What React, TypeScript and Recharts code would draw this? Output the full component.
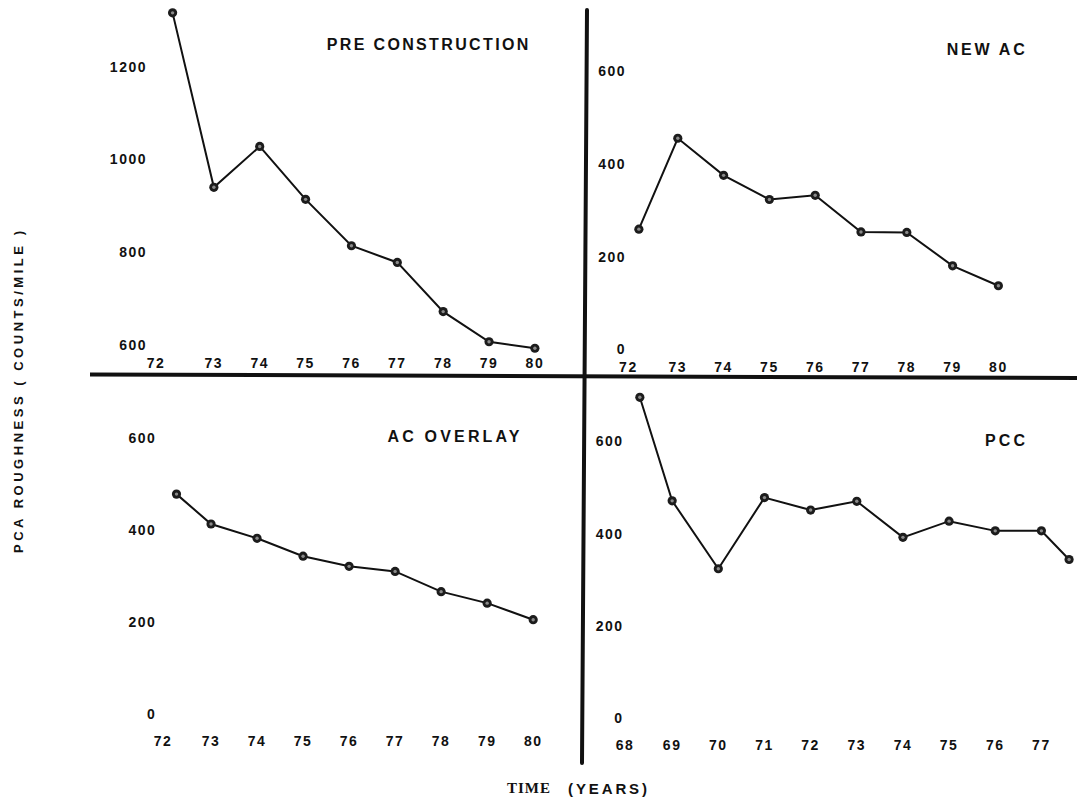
import React from 'react';
import { Line, LineChart, XAxis, YAxis } from 'recharts';

// Pre construction (years 72-80)
const preYears = [72.1, 73, 74, 75, 76, 77, 78, 79, 80];
const preValues = [1316, 940, 1028, 914, 814, 778, 672, 607, 593];

// New AC (years 72-80)
const newAcYears = [72.15, 73, 74, 75, 76, 77, 78, 79, 80];
const newAcValues = [259, 455, 375, 323, 332, 253, 252, 180, 137];

// AC overlay (years 72-80)
const overlayYears = [72.25, 73, 74, 75, 76, 77, 78, 79, 80];
const overlayValues = [478, 413, 382, 343, 321, 310, 266, 241, 205];

// PCC (years 68-77)
const pccYears = [68.3, 69, 70, 71, 72, 73, 74, 75, 76, 77, 77.6];
const pccValues = [695, 471, 324, 478, 451, 470, 392, 427, 406, 406, 344];

const ticks72to80 = [72, 73, 74, 75, 76, 77, 78, 79, 80];
const ticks68to77 = [68, 69, 70, 71, 72, 73, 74, 75, 76, 77];
const preYTicks = [600, 800, 1000, 1200];
const lowYTicks = [0, 200, 400, 600];

const FONT = '"Liberation Sans", Arial, sans-serif';
const INK = '#111';

const Y_W = 60;
const X_H = 40;

const toRows = (xs: number[], ys: number[]) => xs.map((x, i) => ({ x, y: ys[i] }));

const Dot = (props: any) => {
  const { cx, cy, index } = props;
  if (cx == null || cy == null) return null;
  return (
    <g key={`d-${index}`}>
      <circle cx={cx} cy={cy} r={4.6} fill="#1c1c1c" />
      <circle cx={cx} cy={cy} r={1.7} fill="#8a8a8a" />
    </g>
  );
};

type PanelProps = {
  plotLeft: number;
  plotTop: number;
  plotW: number;
  plotH: number;
  xDomain: [number, number];
  yDomain: [number, number];
  xTicks: number[];
  yTicks: number[];
  years: number[];
  values: number[];
  yLabelGap: number;
  xLabelDy: number;
  firstShift: number;
};

const Panel = (p: PanelProps) => {
  const data = toRows(p.years, p.values);
  const xTick = (t: any) => (
    <text
      x={t.x + (t.index === 0 ? p.firstShift : 0)}
      y={t.y + p.xLabelDy}
      textAnchor="middle"
      dominantBaseline="central"
      fontFamily={FONT}
      fontWeight="bold"
      fontSize={14}
      letterSpacing={1.5}
      fill={INK}
    >
      {t.payload.value}
    </text>
  );
  const yTick = (t: any) => (
    <text
      x={t.x}
      y={t.y}
      textAnchor="end"
      dominantBaseline="central"
      fontFamily={FONT}
      fontWeight="bold"
      fontSize={14}
      letterSpacing={1.5}
      fill={INK}
    >
      {t.payload.value}
    </text>
  );
  return (
    <div
      style={{
        position: 'absolute',
        left: p.plotLeft - Y_W,
        top: p.plotTop - 10,
      }}
    >
      <LineChart
        width={p.plotW + Y_W + 10}
        height={p.plotH + X_H + 10}
        data={data}
        margin={{ top: 10, right: 10, left: 0, bottom: 0 }}
      >
        <XAxis
          dataKey="x"
          type="number"
          domain={p.xDomain}
          ticks={p.xTicks}
          interval={0}
          axisLine={false}
          tickLine={false}
          tickSize={0}
          tickMargin={0}
          height={X_H}
          tick={xTick}
        />
        <YAxis
          type="number"
          domain={p.yDomain}
          ticks={p.yTicks}
          interval={0}
          axisLine={false}
          tickLine={false}
          tickSize={0}
          tickMargin={p.yLabelGap}
          width={Y_W}
          tick={yTick}
        />
        <Line
          type="linear"
          dataKey="y"
          stroke={INK}
          strokeWidth={2}
          dot={Dot}
          activeDot={false}
          isAnimationActive={false}
        />
      </LineChart>
    </div>
  );
};

const titleStyle = {
  fontFamily: FONT,
  fontWeight: 'bold' as const,
  fontSize: 16,
  fill: INK,
};

export default function App() {
  return (
    <div
      style={{
        position: 'absolute',
        left: 0,
        top: 0,
        width: 1077,
        height: 798,
        background: '#fff',
        overflow: 'hidden',
      }}
    >
      <Panel
        plotLeft={168.1}
        plotTop={11}
        plotW={366.9}
        plotH={343.3}
        xDomain={[72, 80]}
        yDomain={[580, 1320]}
        xTicks={ticks72to80}
        yTicks={preYTicks}
        years={preYears}
        values={preValues}
        yLabelGap={21}
        xLabelDy={8.4}
        firstShift={-12}
      />
      <Panel
        plotLeft={631.9}
        plotTop={71}
        plotW={366.4}
        plotH={278.3}
        xDomain={[72, 80]}
        yDomain={[0, 600]}
        xTicks={ticks72to80}
        yTicks={lowYTicks}
        years={newAcYears}
        values={newAcValues}
        yLabelGap={6}
        xLabelDy={17.4}
        firstShift={-3.6}
      />
      <Panel
        plotLeft={164.7}
        plotTop={438.3}
        plotW={368.2}
        plotH={276}
        xDomain={[72, 80]}
        yDomain={[0, 600]}
        xTicks={ticks72to80}
        yTicks={lowYTicks}
        years={overlayYears}
        values={overlayValues}
        yLabelGap={8.7}
        xLabelDy={27.4}
        firstShift={-2}
      />
      <Panel
        plotLeft={625.5}
        plotTop={394.8}
        plotW={443.1}
        plotH={323.5}
        xDomain={[68, 77.6]}
        yDomain={[0, 700]}
        xTicks={ticks68to77}
        yTicks={lowYTicks}
        years={pccYears}
        values={pccValues}
        yLabelGap={2.5}
        xLabelDy={26.7}
        firstShift={-1}
      />
      <svg
        width={1077}
        height={798}
        style={{ position: 'absolute', left: 0, top: 0, pointerEvents: 'none' }}
      >
        {/* quadrant divider lines */}
        <line x1={90} y1={374.5} x2={1077} y2={378} stroke={INK} strokeWidth={4} />
        <line x1={587} y1={10} x2={582} y2={763} stroke={INK} strokeWidth={4} strokeLinecap="round" />

        <text x={326.7} y={44.3} dominantBaseline="central" textLength={201.6} lengthAdjust="spacing" {...titleStyle}>
          PRE CONSTRUCTION
        </text>
        <text x={946.7} y={49.3} dominantBaseline="central" textLength={78} lengthAdjust="spacing" {...titleStyle}>
          NEW AC
        </text>
        <text x={387.5} y={436.7} dominantBaseline="central" textLength={132} lengthAdjust="spacing" {...titleStyle}>
          AC OVERLAY
        </text>
        <text x={985} y={440} dominantBaseline="central" textLength={40} lengthAdjust="spacing" {...titleStyle}>
          PCC
        </text>

        <text
          transform="translate(18 392) rotate(-90)"
          textAnchor="middle"
          dominantBaseline="central"
          fontFamily={FONT}
          fontWeight="bold"
          fontSize={13}
          textLength={322}
          lengthAdjust="spacing"
          fill={INK}
        >
          PCA ROUGHNESS ( COUNTS/MILE )
        </text>

        <text y={787.5} dominantBaseline="central" fill={INK} fontWeight="bold" fontSize={15}>
          <tspan x={507} fontFamily='"Liberation Serif", serif' textLength={43} lengthAdjust="spacing">
            TIME
          </tspan>
          <tspan x={568} fontFamily={FONT} textLength={79} lengthAdjust="spacing">
            (YEARS)
          </tspan>
        </text>
      </svg>
    </div>
  );
}
